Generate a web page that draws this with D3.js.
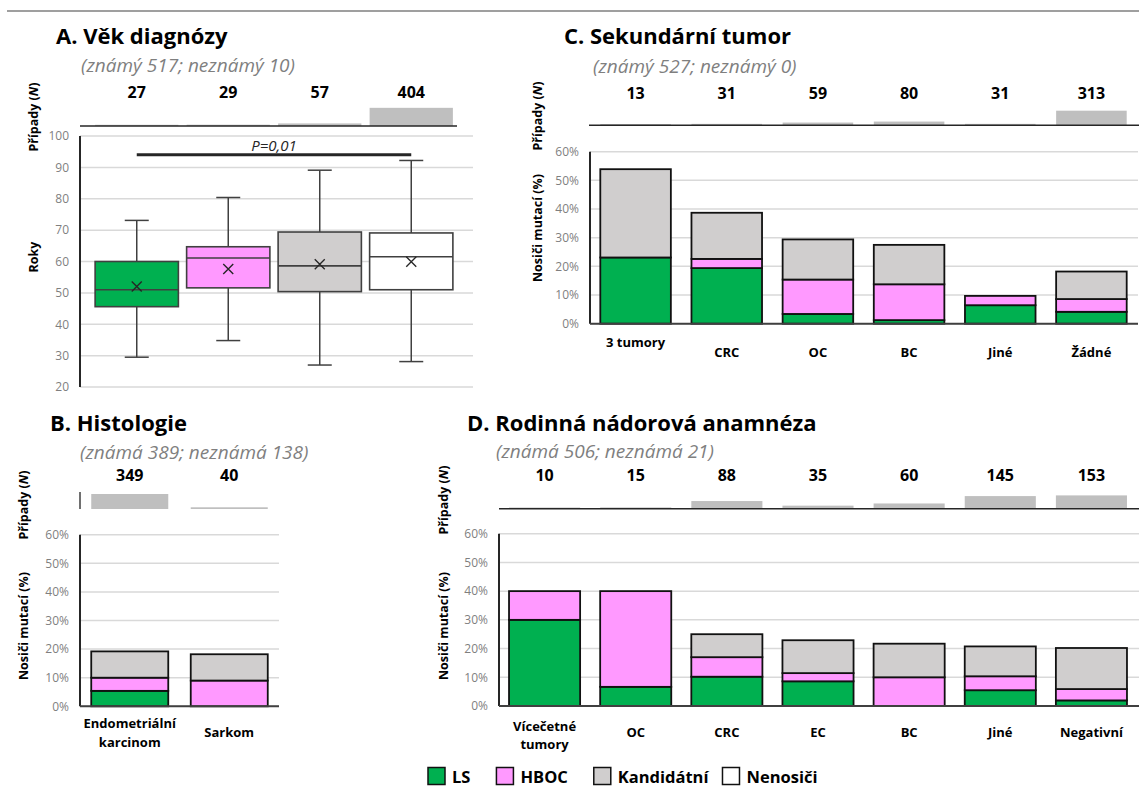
<!DOCTYPE html>
<html>
<head>
<meta charset="utf-8">
<script src="https://cdn.jsdelivr.net/npm/d3@7"></script>
<style>
  body { margin: 0; background: #fff; }
  svg { display: block; }
  text { font-family: 'Open Sans', 'DejaVu Sans', sans-serif; }
</style>
</head>
<body>
<svg id="chart" width="1139" height="788"></svg>
<script>
// ---- A. Age at diagnosis (box plot summaries, years) ----
const ageGroups  = ["LS", "HBOC", "Kandidátní", "Nenosiči"];
const ageCases   = [27, 29, 57, 404];
const ageMin     = [29.5, 34.8, 27.0, 28.1];
const ageQ1      = [45.6, 51.6, 50.4, 51.0];
const ageMedian  = [51.0, 61.1, 58.6, 61.5];
const ageQ3      = [60.0, 64.7, 69.4, 69.1];
const ageMax     = [73.1, 80.4, 89.1, 92.2];
const ageMean    = [52.0, 57.6, 59.1, 59.9];
const ageTicks   = [20, 30, 40, 50, 60, 70, 80, 90, 100];

// ---- B. Histology (% carriers) ----
const histCategories = ["Endometriální karcinom", "Sarkom"];
const histCases = [349, 40];
const histLS    = [5.4, 0];
const histHBOC  = [4.6, 9.0];
const histCand  = [9.2, 9.2];

// ---- C. Secondary tumour (% carriers) ----
const secCategories = ["3 tumory", "CRC", "OC", "BC", "Jiné", "Žádné"];
const secCases = [13, 31, 59, 80, 31, 313];
const secLS    = [23.1, 19.4, 3.4, 1.25, 6.45, 4.15];
const secHBOC  = [0, 3.2, 12.0, 12.5, 3.25, 4.45];
const secCand  = [30.8, 16.1, 14.0, 13.75, 0, 9.6];

// ---- D. Family cancer history (% carriers) ----
const famCategories = ["Vícečetné tumory", "OC", "CRC", "EC", "BC", "Jiné", "Negativní"];
const famCases = [10, 15, 88, 35, 60, 145, 153];
const famLS    = [30, 6.67, 10.2, 8.6, 0, 5.5, 1.95];
const famHBOC  = [10, 33.33, 6.8, 2.85, 10, 4.85, 3.95];
const famCand  = [0, 0, 8.0, 11.45, 11.7, 10.4, 14.3];

const pctTicks = [0, 10, 20, 30, 40, 50, 60];
const legendLabels = ["LS", "HBOC", "Kandidátní", "Nenosiči"];

// ---- styling ----
const COLORS = { "LS": "#00b050", "HBOC": "#ff99ff", "Kandidátní": "#d0cece", "Nenosiči": "#ffffff" };
const GRID = "#d9d9d9";
const TICK_TEXT = "#7f7f7f";
const SUB_TEXT = "#7f7f7f";
const CASE_FILL = "#bfbfbf";

const svg = d3.select("#chart");

// top rule
svg.append("line").attr("x1", 7).attr("x2", 1139).attr("y1", 11).attr("y2", 11)
  .attr("stroke", "#404040").attr("stroke-width", 1.2);

function heading(x, y, label, sub, subX, subY) {
  svg.append("text").attr("x", x).attr("y", y).attr("dominant-baseline", "central")
    .attr("font-size", 22).attr("font-weight", 700).attr("fill", "#000").text(label);
  svg.append("text").attr("x", subX).attr("y", subY).attr("dominant-baseline", "central")
    .attr("font-size", 19).attr("font-style", "italic").attr("fill", SUB_TEXT).text(sub);
}

function rotatedTitle(x, y, parts) {
  const t = svg.append("text")
    .attr("transform", `translate(${x},${y}) rotate(-90)`)
    .attr("text-anchor", "middle").attr("dominant-baseline", "central")
    .attr("font-size", 12.5).attr("font-weight", 700).attr("fill", "#000");
  parts.forEach(p => t.append("tspan").attr("font-style", p.italic ? "italic" : null).text(p.text));
}

function casesTitle(x, y) {
  rotatedTitle(x, y, [{ text: "Případy (" }, { text: "N", italic: true }, { text: ")" }]);
}

// count strip above each panel: number labels and small grey bars
function caseStrip(xScale, cats, cases, base, pxPerCase, labelY, opts) {
  const h = d3.scaleLinear().domain([0, 1]).range([0, pxPerCase]);
  svg.append("g").selectAll("rect").data(cats).join("rect")
    .attr("x", d => xScale(d))
    .attr("width", xScale.bandwidth())
    .attr("y", (d, i) => base - Math.max(h(cases[i]), 1.2))
    .attr("height", (d, i) => Math.max(h(cases[i]), 1.2))
    .attr("fill", CASE_FILL);
  svg.append("g").selectAll("text").data(cats).join("text")
    .attr("x", d => xScale(d) + xScale.bandwidth() / 2)
    .attr("y", labelY)
    .attr("text-anchor", "middle").attr("dominant-baseline", "central")
    .attr("font-size", 16).attr("font-weight", 700).attr("fill", "#000")
    .text((d, i) => cases[i]);
  if (opts.hLine) {
    svg.append("line").attr("x1", opts.hLine[0]).attr("x2", opts.hLine[1])
      .attr("y1", base).attr("y2", base).attr("stroke", "#262626").attr("stroke-width", 1.5);
  }
  if (opts.vLine) {
    svg.append("line").attr("x1", opts.vLine).attr("x2", opts.vLine)
      .attr("y1", base - 17).attr("y2", base).attr("stroke", "#404040").attr("stroke-width", 1.5);
  }
}

function valueAxis(y, x0, x1, ticks, fmt) {
  svg.append("g").selectAll("line").data(ticks).join("line")
    .attr("x1", x0).attr("x2", x1)
    .attr("y1", d => y(d)).attr("y2", d => y(d))
    .attr("stroke", GRID).attr("stroke-width", 1.5);
  const ax = svg.append("g").attr("transform", `translate(${x0},0)`)
    .call(d3.axisLeft(y).tickValues(ticks).tickSize(0).tickPadding(11).tickFormat(fmt));
  ax.select(".domain").remove();
  ax.selectAll("text").attr("font-size", 12).attr("fill", TICK_TEXT)
    .style("font-family", "'Open Sans', sans-serif");
  svg.append("line").attr("x1", x0).attr("x2", x0)
    .attr("y1", y.range()[1]).attr("y2", y.range()[0])
    .attr("stroke", "#262626").attr("stroke-width", 2);
}

function stackedBars(x, y, cats, ls, hboc, cand, x1) {
  const rows = cats.map((c, i) => ({ cat: c, "LS": ls[i], "HBOC": hboc[i], "Kandidátní": cand[i] }));
  const stack = d3.stack().keys(["LS", "HBOC", "Kandidátní"])(rows);
  const g = svg.append("g");
  stack.forEach(layer => {
    g.selectAll(null).data(layer.filter(d => d[1] - d[0] > 0)).join("rect")
      .attr("x", d => x(d.data.cat))
      .attr("width", x.bandwidth())
      .attr("y", d => y(d[1]))
      .attr("height", d => y(d[0]) - y(d[1]))
      .attr("fill", COLORS[layer.key])
      .attr("stroke", "#111").attr("stroke-width", 1.8);
  });
  svg.append("line").attr("x1", x.range()[0]).attr("x2", x1)
    .attr("y1", y(0)).attr("y2", y(0)).attr("stroke", "#404040").attr("stroke-width", 2);
}

function categoryLabels(x, cats, yTop, yOne, lineGap) {
  cats.forEach(c => {
    const words = c.split(" ");
    const cx = x(c) + x.bandwidth() / 2;
    const t = svg.append("text").attr("text-anchor", "middle").attr("font-size", 13)
      .attr("font-weight", 700).attr("fill", "#000").attr("dominant-baseline", "central");
    if (words.length > 1 && lineGap) {
      words.forEach((w, k) => t.append("tspan").attr("x", cx).attr("y", yTop + k * lineGap).text(w));
    } else {
      t.attr("x", cx).attr("y", words.length > 1 ? yTop : yOne).text(c);
    }
  });
}

// ================= Panel A =================
heading(56, 35, "A. Věk diagnózy", "(známý 517; neznámý 10)", 81, 65);
const xA = d3.scaleBand().domain(ageGroups).range([91, 457]).paddingInner(0.09).paddingOuter(0.045);
const yA = d3.scaleLinear().domain([20, 100]).range([387, 136]);
caseStrip(xA, ageGroups, ageCases, 126, 0.045, 92, { hLine: [80, 457] });
casesTitle(33, 117);
rotatedTitle(33, 257, [{ text: "Roky" }]);
valueAxis(yA, 80, 473, ageTicks, d => d);

const boxG = svg.append("g");
ageGroups.forEach((g, i) => {
  const x0 = xA(g), w = xA.bandwidth(), cx = x0 + w / 2, cap = 12;
  const stroke = "#404040";
  boxG.append("line").attr("x1", cx).attr("x2", cx).attr("y1", yA(ageMax[i])).attr("y2", yA(ageQ3[i]))
    .attr("stroke", stroke).attr("stroke-width", 1.5);
  boxG.append("line").attr("x1", cx).attr("x2", cx).attr("y1", yA(ageQ1[i])).attr("y2", yA(ageMin[i]))
    .attr("stroke", stroke).attr("stroke-width", 1.5);
  [ageMax[i], ageMin[i]].forEach(v => boxG.append("line")
    .attr("x1", cx - cap).attr("x2", cx + cap).attr("y1", yA(v)).attr("y2", yA(v))
    .attr("stroke", stroke).attr("stroke-width", 1.5));
  boxG.append("rect").attr("x", x0).attr("width", w)
    .attr("y", yA(ageQ3[i])).attr("height", yA(ageQ1[i]) - yA(ageQ3[i]))
    .attr("fill", COLORS[g]).attr("stroke", stroke).attr("stroke-width", 1.6);
  boxG.append("line").attr("x1", x0).attr("x2", x0 + w).attr("y1", yA(ageMedian[i])).attr("y2", yA(ageMedian[i]))
    .attr("stroke", stroke).attr("stroke-width", 1.6);
  const my = yA(ageMean[i]), s = 5;
  boxG.append("path").attr("d", `M${cx - s},${my - s}L${cx + s},${my + s}M${cx - s},${my + s}L${cx + s},${my - s}`)
    .attr("stroke", "#262626").attr("stroke-width", 1.4);
});
// significance bracket LS vs Nenosiči
const pY = yA(94);
const pX0 = xA("LS") + xA.bandwidth() / 2, pX1 = xA("Nenosiči") + xA.bandwidth() / 2;
svg.append("line").attr("x1", pX0).attr("x2", pX1).attr("y1", pY).attr("y2", pY)
  .attr("stroke", "#262626").attr("stroke-width", 3);
svg.append("text").attr("x", (pX0 + pX1) / 2).attr("y", 145).attr("text-anchor", "middle")
  .attr("dominant-baseline", "central").attr("font-size", 15).attr("font-style", "italic")
  .attr("fill", "#262626").text("P=0,01");

// ================= Panel B =================
heading(50, 422, "B. Histologie", "(známá 389; neznámá 138)", 80, 452);
const xB = d3.scaleBand().domain(histCategories).range([80, 279]).paddingInner(0.226).paddingOuter(0.113);
const yB = d3.scaleLinear().domain([0, 60]).range([706.3, 534.7]);
caseStrip(xB, histCategories, histCases, 509, 0.043, 475, { vLine: 80 });
casesTitle(23, 505);
rotatedTitle(23, 626, [{ text: "Nosiči mutací (%)" }]);
valueAxis(yB, 80, 279, pctTicks, d => d + "%");
stackedBars(xB, yB, histCategories, histLS, histHBOC, histCand, 279);
categoryLabels(xB, histCategories, 723, 732, 19);

// ================= Panel C =================
heading(564, 35, "C. Sekundární tumor", "(známý 527; neznámý 0)", 593, 66);
const xC = d3.scaleBand().domain(secCategories).range([590, 1137]).paddingInner(0.226).paddingOuter(0.113);
const yC = d3.scaleLinear().domain([0, 60]).range([323.7, 151.7]);
caseStrip(xC, secCategories, secCases, 125.3, 0.0467, 93, { hLine: [589, 1139] });
casesTitle(537, 116);
rotatedTitle(537, 228, [{ text: "Nosiči mutací (%)" }]);
valueAxis(yC, 590, 1138, pctTicks, d => d + "%");
stackedBars(xC, yC, secCategories, secLS, secHBOC, secCand, 1138);
categoryLabels(xC, secCategories, 341.7, 351.7, 0);

// ================= Panel D =================
heading(467, 422, "D. Rodinná nádorová anamnéza", "(známá 506; neznámá 21)", 496, 451);
const xD = d3.scaleBand().domain(famCategories).range([499, 1137]).paddingInner(0.22).paddingOuter(0.11);
const yD = d3.scaleLinear().domain([0, 60]).range([706, 533.7]);
caseStrip(xD, famCategories, famCases, 508.7, 0.087, 475, { hLine: [499, 1139] });
casesTitle(443, 500);
rotatedTitle(443, 626, [{ text: "Nosiči mutací (%)" }]);
valueAxis(yD, 499, 1139, pctTicks, d => d + "%");
stackedBars(xD, yD, famCategories, famLS, famHBOC, famCand, 1139);
categoryLabels(xD, famCategories, 725.7, 731.7, 18.5);

// ================= Legend =================
const legend = svg.append("g");
let lx = 428;
legendLabels.forEach((name, i) => {
  legend.append("rect").attr("x", lx).attr("y", 767.5).attr("width", 17).attr("height", 17)
    .attr("fill", COLORS[name]).attr("stroke", "#111").attr("stroke-width", 1.5);
  const t = legend.append("text").attr("x", lx + 24).attr("y", 776).attr("dominant-baseline", "central")
    .attr("font-size", 16.5).attr("font-weight", 700).attr("fill", "#000").text(name);
  lx += 24 + t.node().getComputedTextLength() + (i === 2 ? 14 : 26);
});
</script>
</body>
</html>
